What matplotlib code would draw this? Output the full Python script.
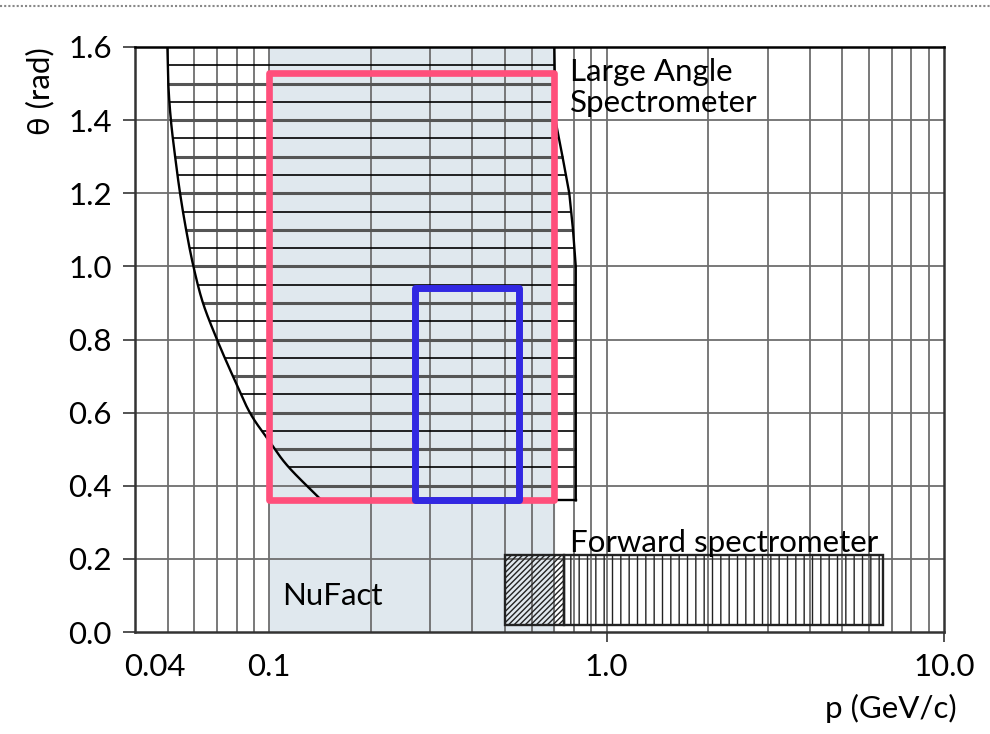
import numpy as np
import matplotlib
matplotlib.use("Agg")
import matplotlib.pyplot as plt
from matplotlib.patches import Rectangle
from matplotlib.lines import Line2D
from matplotlib.transforms import ScaledTranslation

plt.rcParams['font.family'] = ['Lato', 'DejaVu Sans']
plt.rcParams['hatch.linewidth'] = 1.0

# ---- data ----
x_ticks = [0.04, 0.1, 1.0, 10.0]
x_ticklabels = ['0.04', '0.1', '1.0', '10.0']
y_ticks = [0.0, 0.2, 0.4, 0.6, 0.8, 1.0, 1.2, 1.4, 1.6]
y_ticklabels = ['0.0', '0.2', '0.4', '0.6', '0.8', '1.0', '1.2', '1.4', '1.6']

# Large Angle Spectrometer acceptance: left (low-momentum) boundary
las_left_theta = [1.60, 1.50, 1.40, 1.30, 1.20, 1.10, 1.00, 0.90, 0.80, 0.70, 0.60, 0.525, 0.452, 0.36]
las_left_p     = [0.0499, 0.0502, 0.0511, 0.0526, 0.0544, 0.0567, 0.0596, 0.0636, 0.0700,
                  0.0780, 0.0876, 0.0995, 0.1139, 0.143]
# right (high-momentum) boundary
las_right_theta = [1.60, 1.40, 1.30, 1.20, 1.10, 1.00, 0.36]
las_right_p     = [0.70, 0.705, 0.74, 0.775, 0.795, 0.81, 0.81]
las_hatch_theta = [0.40, 0.45, 0.50, 0.55, 0.60, 0.65, 0.70, 0.75, 0.80, 0.85, 0.90,
                   0.95, 1.00, 1.05, 1.10, 1.15, 1.20, 1.25, 1.30, 1.35, 1.40, 1.45,
                   1.50, 1.55]

# NuFact region
nufact_p = [0.1, 0.7]
# red box (p range, theta range)
red_p = [0.1, 0.70]
red_theta = [0.36, 1.53]
# blue box
blue_p = [0.27, 0.55]
blue_theta = [0.36, 0.94]
# Forward spectrometer
fwd_p = [0.5, 0.75, 6.6]
fwd_theta = [0.02, 0.21]


def catmull_rom(xs, ys, n=20):
    """Smooth curve through the given points (uniform Catmull-Rom)."""
    P = np.column_stack([xs, ys])
    P = np.vstack([P[0] - (P[1] - P[0]), P, P[-1] + (P[-1] - P[-2])])
    out = []
    t = np.linspace(0, 1, n, endpoint=False)[:, None]
    for i in range(1, len(P) - 2):
        p0, p1, p2, p3 = P[i - 1], P[i], P[i + 1], P[i + 2]
        seg = 0.5 * ((2 * p1) + (-p0 + p2) * t + (2 * p0 - 5 * p1 + 4 * p2 - p3) * t ** 2
                     + (-p0 + 3 * p1 - 3 * p2 + p3) * t ** 3)
        out.append(seg)
    out.append(P[-2][None, :])
    out = np.vstack(out)
    return out[:, 0], out[:, 1]


fig = plt.figure(figsize=(9.9, 7.34), dpi=100)
ax = fig.add_axes([135/990, (734-632)/734, (944-135)/990, (632-47)/734])
ax.set_xscale('log')
ax.set_xlim(0.04, 10)
ax.set_ylim(0, 1.6)

# NuFact shaded band
ax.axvspan(nufact_p[0], nufact_p[1], color='#e0e8ee', zorder=0)

# grid
minor = [v * d for d in (0.01, 0.1, 1.0) for v in range(1, 10)]
minor = [m for m in minor if 0.04 <= m <= 10]
for m in minor:
    ax.axvline(m, color='#6e6e6e', lw=1.3, zorder=1)
for yv in y_ticks[1:-1]:
    ax.axhline(yv, color='#6e6e6e', lw=1.3, zorder=1)

# smooth left boundary (in theta / log p space); right boundary piecewise
lth_s, llp_s = catmull_rom(las_left_theta, np.log10(las_left_p))
rth_s = np.array(las_right_theta)
rlp_s = np.log10(las_right_p)

# Large angle spectrometer hatch lines
lt, lp = lth_s[::-1], llp_s[::-1]
rt, rp = rth_s[::-1], rlp_s[::-1]
for i, th in enumerate(las_hatch_theta):
    x0 = 10 ** np.interp(th, lt, lp)
    x1 = 10 ** np.interp(th, rt, rp)
    if i % 2 == 0:
        ax.plot([x0, x1], [th, th], color='#555555', lw=2.2, zorder=2, solid_capstyle='butt')
    else:
        ax.plot([x0, x1], [th, th], color='black', lw=1.2, zorder=2, solid_capstyle='butt')
ax.plot(10 ** llp_s, lth_s, color='black', lw=1.7, zorder=3)
ax.plot(10 ** rlp_s, rth_s, color='black', lw=1.7, zorder=3)
ax.plot([las_left_p[-1], las_right_p[-1]], [las_left_theta[-1], las_right_theta[-1]],
        color='black', lw=1.7, zorder=3)

# Forward spectrometer
ax.add_patch(Rectangle((fwd_p[0], fwd_theta[0]), fwd_p[1]-fwd_p[0], fwd_theta[1]-fwd_theta[0],
                       facecolor='none', edgecolor='#222222', hatch='//////', lw=1.7, zorder=3))
ax.add_patch(Rectangle((fwd_p[1], fwd_theta[0]), fwd_p[2]-fwd_p[1], fwd_theta[1]-fwd_theta[0],
                       facecolor='none', edgecolor='#222222', hatch='||', lw=1.7, zorder=3))

# red and blue boxes
ax.add_patch(Rectangle((red_p[0], red_theta[0]), red_p[1]-red_p[0], red_theta[1]-red_theta[0],
                       facecolor='none', edgecolor='#ff4f7b', lw=4.8, joinstyle='round', zorder=5))
ax.add_patch(Rectangle((blue_p[0], blue_theta[0]), blue_p[1]-blue_p[0], blue_theta[1]-blue_theta[0],
                       facecolor='none', edgecolor='#3228e2', lw=5.0, joinstyle='round', zorder=6))

# texts
fs = 22.5
ax.text(0.78, 1.57, 'Large Angle\nSpectrometer', ha='left', va='top', fontsize=fs,
        linespacing=1.12, zorder=7)
ax.text(0.78, 0.219, 'Forward spectrometer', ha='left', va='baseline', fontsize=fs, zorder=7)
ax.text(0.109, 0.074, 'NuFact', ha='left', va='baseline', fontsize=fs, zorder=7)

# ticks
ax.set_xticks(x_ticks)
ax.set_xticklabels(x_ticklabels, fontsize=fs)
ax.xaxis.set_minor_locator(matplotlib.ticker.NullLocator())
ax.set_yticks(y_ticks)
ax.set_yticklabels(y_ticklabels, fontsize=fs)
ax.tick_params(axis='x', direction='out', length=7, width=1.3, color='#444444', pad=8)
ax.tick_params(axis='y', direction='out', length=8.6, width=1.3, color='#444444', pad=8)
for t in ax.xaxis.get_major_ticks()[:2]:
    t.tick1line.set_visible(False)

for sp in ax.spines.values():
    sp.set_color('#333333')
    sp.set_linewidth(1.8)
ax.spines['top'].set_color('black')

ax.set_ylabel('θ (rad)', fontsize=fs, loc='top')
ax.yaxis.set_label_coords((54-135)/809, 1.0)
ax.set_xlabel('p (GeV/c)', fontsize=fs, loc='right')
ax.xaxis.set_label_coords((957-135)/809, (632-694)/585)

fig.canvas.draw()
lab = ax.get_xticklabels()[0]
lab.set_transform(lab.get_transform() + ScaledTranslation(0.2, 0, fig.dpi_scale_trans))

fig.add_artist(Line2D([0, 1], [1 - 6/734, 1 - 6/734], transform=fig.transFigure,
                      color='#888888', lw=1.5, ls=(0, (1, 1))))

fig.savefig('out.png', dpi=100)
